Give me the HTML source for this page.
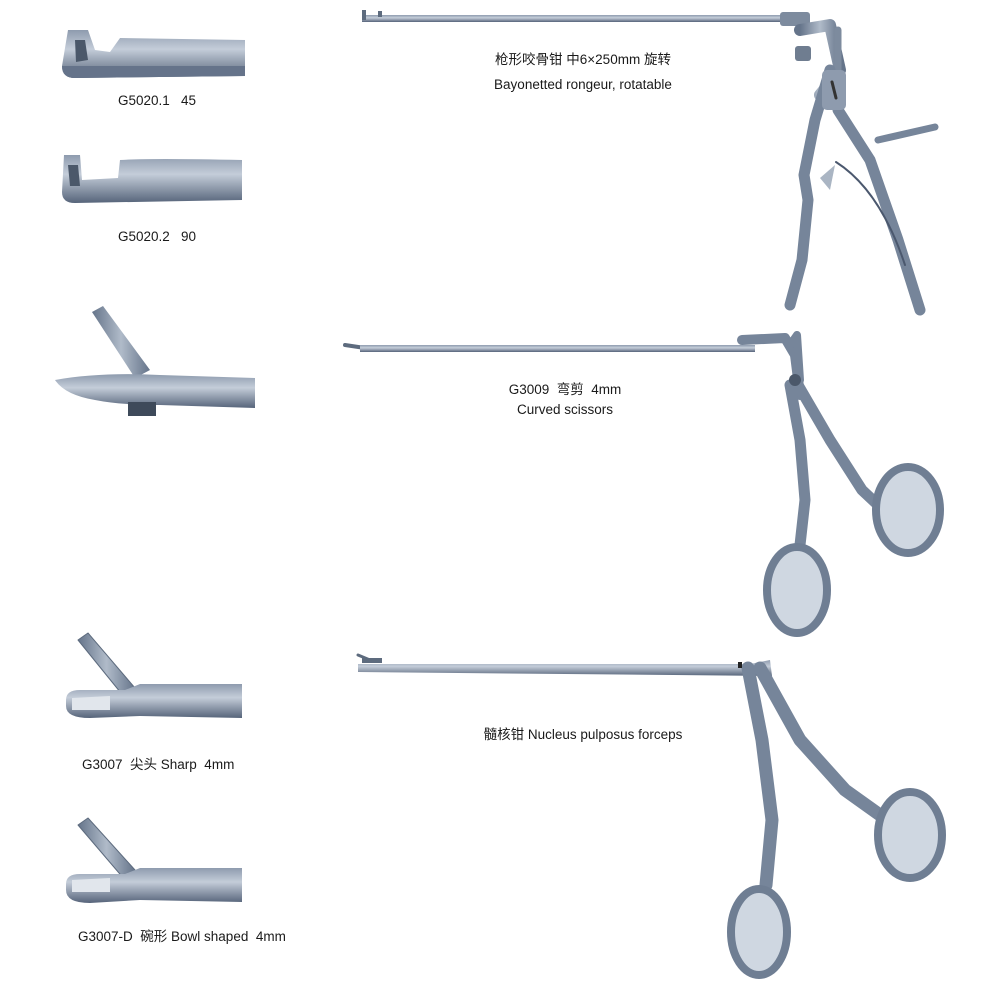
<!DOCTYPE html>
<html><head><meta charset="utf-8"><style>
html,body{margin:0;padding:0;background:#fff;}
svg{display:block}
text{font-family:"Liberation Sans","Noto Sans CJK SC",sans-serif;fill:#1a1a1a;font-size:13.5px;}
</style></head><body>
<svg width="1000" height="1000" viewBox="0 0 1000 1000" xmlns="http://www.w3.org/2000/svg">
<defs>
<linearGradient id="g" x1="0" y1="0" x2="0" y2="1">
<stop offset="0" stop-color="#8e9bae"/><stop offset="0.4" stop-color="#c4cdd9"/><stop offset="1" stop-color="#56647a"/></linearGradient>
<linearGradient id="h" x1="0" y1="0" x2="1" y2="0">
<stop offset="0" stop-color="#65748a"/><stop offset="0.5" stop-color="#b0bbc9"/><stop offset="1" stop-color="#65748a"/></linearGradient>
</defs>
<g stroke-linecap="round" stroke-linejoin="round">
<path d="M68 30 L88 30 L95 50 L110 52 L120 38 L245 40 L245 76 L75 78 Q62 78 62 66 Z" fill="url(#g)"/>
<path d="M75 40 L85 40 L88 60 L76 62 Z" fill="#4b586a"/>
<path d="M62 66 L245 66 L245 76 L75 78 Q62 78 62 66Z" fill="#65738a"/>
<text x="118" y="105">G5020.1&#160;&#160;&#160;45</text>
<path d="M64 155 L80 155 L82 180 L118 178 L120 160 Q150 158 242 160 L242 200 L75 203 Q62 203 62 192 Z" fill="url(#g)"/>
<path d="M68 165 L78 165 L80 186 L70 186Z" fill="#4b586a"/>
<text x="118" y="241">G5020.2&#160;&#160;&#160;90</text>
<path d="M92 312 L103 306 L150 370 L135 378 Z" fill="url(#h)"/>
<path d="M55 380 Q100 372 160 375 L255 378 L255 408 L160 405 Q120 405 95 400 Q65 395 55 380 Z" fill="url(#g)"/>
<rect x="128" y="402" width="28" height="14" fill="#3e4a5a"/>
<path d="M78 640 L88 633 L135 688 L125 698 Z" fill="url(#h)" stroke="#5d6b7e" stroke-width="1"/>
<path d="M66 700 Q66 690 80 690 L125 690 L140 684 L242 684 L242 718 L140 716 L90 718 Q66 718 66 706Z" fill="url(#g)"/>
<path d="M72 698 L110 696 L110 710 L72 710Z" fill="#e1e6ec"/>
<text x="82" y="769" font-size="14">G3007&#160;&#160;尖头 Sharp&#160;&#160;4mm</text>
<path d="M78 825 L88 818 L135 870 L125 880 Z" fill="url(#h)" stroke="#5d6b7e" stroke-width="1"/>
<path d="M66 884 Q66 874 80 874 L125 874 L140 868 L242 868 L242 902 L140 900 L90 903 Q66 903 66 890Z" fill="url(#g)"/>
<path d="M72 880 L110 878 L110 892 L72 892Z" fill="#e1e6ec"/>
<text x="78" y="941" font-size="14">G3007-D&#160;&#160;碗形 Bowl shaped&#160;&#160;4mm</text>

<rect x="362" y="15" width="440" height="7" fill="url(#g)"/>
<rect x="362" y="10" width="4" height="10" fill="#5d6b7e"/>
<rect x="378" y="11" width="4" height="6" fill="#5d6b7e"/>
<rect x="780" y="12" width="30" height="14" rx="3" fill="#7d8b9e"/>
<rect x="795" y="46" width="16" height="15" rx="3" fill="#6f7d90"/>
<path d="M800 30 L830 25 L840 70 L820 95" fill="none" stroke="url(#h)" stroke-width="12"/>
<path d="M838 30 L838 70" stroke="#7d8b9e" stroke-width="7"/>
<path d="M830 70 L815 120 L804 175 L808 200 L802 260 L790 305" fill="none" stroke="#76859a" stroke-width="11"/>
<path d="M838 110 L870 160 L898 240 L920 310" fill="none" stroke="#76859a" stroke-width="11"/>
<path d="M878 140 L935 127" stroke="#76859a" stroke-width="7"/>
<path d="M820 178 L835 165 L830 190 Z" fill="#aab5c3"/>
<path d="M836 162 Q880 190 905 265" fill="none" stroke="#4b586e" stroke-width="2"/>
<rect x="822" y="70" width="24" height="40" rx="5" fill="#8e9bae"/>
<path d="M832 82 L836 98" stroke="#333" stroke-width="3"/>
<text x="583" y="64" text-anchor="middle" font-size="12.5">枪形咬骨钳 中6×250mm 旋转</text>
<text x="583" y="89" text-anchor="middle">Bayonetted rongeur, rotatable</text>

<path d="M345 345 L365 348" stroke="#5d6b7e" stroke-width="4"/>
<rect x="360" y="345" width="395" height="7" fill="url(#g)"/>
<path d="M742 340 L785 338 L795 355 L800 395" fill="none" stroke="#76859a" stroke-width="10"/>
<path d="M790 345 L797 335 L800 380" fill="none" stroke="#76859a" stroke-width="8"/>
<path d="M790 385 L800 440 L805 500 L800 545" fill="none" stroke="#76859a" stroke-width="11"/>
<path d="M798 385 L830 440 L862 490 L878 505" fill="none" stroke="#76859a" stroke-width="11"/>
<circle cx="795" cy="380" r="6" fill="#4b586a"/>
<ellipse cx="797" cy="590" rx="30" ry="43" fill="#cfd7e1" stroke="#6f7e93" stroke-width="8"/>
<ellipse cx="908" cy="510" rx="32" ry="43" fill="#cfd7e1" stroke="#6f7e93" stroke-width="8"/>
<text x="565" y="394" text-anchor="middle">G3009&#160;&#160;弯剪&#160;&#160;4mm</text>
<text x="565" y="414" text-anchor="middle">Curved scissors</text>

<path d="M358 655 L370 660" stroke="#5d6b7e" stroke-width="3"/>
<rect x="362" y="658" width="20" height="5" fill="#5d6b7e"/>
<path d="M358 664 L750 664 L770 660 L772 676 L358 672Z" fill="url(#g)"/>
<path d="M748 668 L762 740 L772 820 L766 885" fill="none" stroke="#76859a" stroke-width="13"/>
<path d="M760 668 L800 740 L845 790 L880 815" fill="none" stroke="#76859a" stroke-width="13"/>
<rect x="738" y="662" width="4" height="6" fill="#222"/>
<ellipse cx="759" cy="932" rx="28" ry="43" fill="#cfd7e1" stroke="#6f7e93" stroke-width="8"/>
<ellipse cx="910" cy="835" rx="32" ry="43" fill="#cfd7e1" stroke="#6f7e93" stroke-width="8"/>
<text x="583" y="739" text-anchor="middle">髓核钳 Nucleus pulposus forceps</text>
</g>
</svg>
</body></html>
